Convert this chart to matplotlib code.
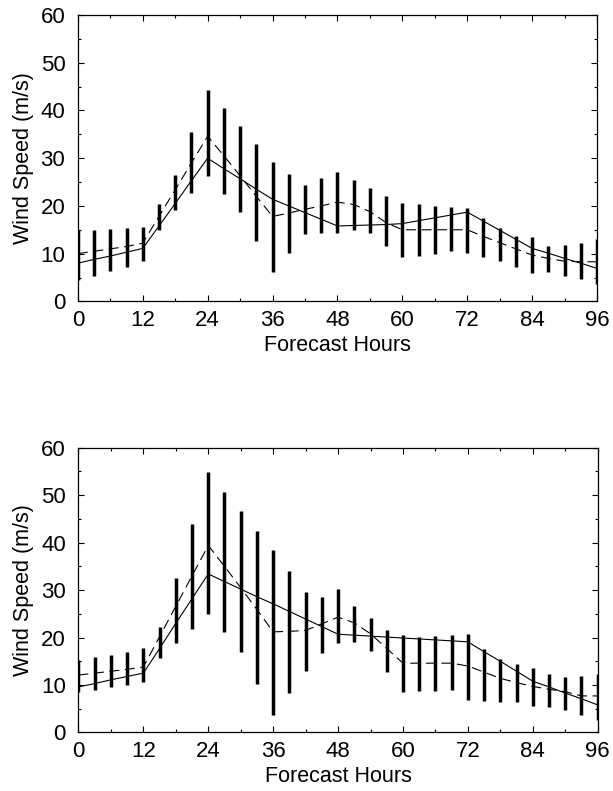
import numpy as np
import matplotlib
matplotlib.use("Agg")
import matplotlib.pyplot as plt
from matplotlib.ticker import MultipleLocator

plt.rcParams['font.family'] = ['Liberation Sans', 'DejaVu Sans']

hours = np.arange(0, 97, 3)

# upper panel
topHigh = [14.9, 14.9, 15.1, 15.4, 15.6, 20.4, 26.5, 35.4, 44.2, 40.5, 36.8, 33.0, 29.2,
           26.7, 24.4, 25.8, 27.2, 25.5, 23.7, 22.0, 20.6, 20.4, 19.9, 19.7, 19.5, 17.4,
           15.4, 13.7, 13.4, 11.7, 11.9, 12.2, 13.0]
topLow = [4.4, 5.4, 6.3, 7.3, 8.4, 15.0, 19.1, 22.7, 26.3, 22.5, 18.8, 12.6, 6.1,
          10.1, 14.2, 14.4, 14.4, 14.9, 14.3, 11.7, 9.3, 9.6, 10.0, 10.5, 10.1, 9.3,
          8.4, 7.2, 5.9, 6.1, 5.4, 4.7, 3.7]
topSolid = [8.0, 8.8, 9.5, 10.3, 11.1, 15.8, 20.5, 25.3, 30.0, 27.8, 25.7, 23.5, 21.4,
            20.0, 18.6, 17.2, 15.8, 15.9, 16.0, 16.1, 16.3, 16.9, 17.5, 18.1, 18.7, 16.8,
            14.9, 13.0, 11.1, 10.1, 9.0, 8.0, 6.9]
topDashed = [10.0, 10.5, 11.0, 11.5, 12.2, 17.8, 23.4, 29.0, 34.6, 30.5, 26.3, 22.0, 17.8,
             18.5, 19.3, 20.0, 20.8, 20.3, 18.8, 16.5, 15.0, 15.0, 15.0, 15.0, 15.0, 13.6,
             12.3, 11.0, 9.7, 9.0, 8.4, 8.3, 8.3]

# lower panel
botHigh = [15.3, 15.8, 16.3, 17.0, 17.7, 22.2, 32.5, 43.9, 54.8, 50.6, 46.6, 42.5, 38.5,
           34.0, 29.7, 28.6, 30.2, 26.7, 24.1, 21.6, 20.5, 20.2, 20.3, 20.5, 20.7, 17.5,
           15.4, 14.4, 13.5, 12.3, 11.6, 11.9, 12.3]
botLow = [8.6, 8.9, 9.5, 10.0, 10.6, 15.6, 18.8, 21.8, 24.9, 21.1, 16.9, 10.2, 3.7,
          8.4, 13.0, 16.8, 18.9, 19.1, 17.2, 12.8, 8.6, 8.7, 8.8, 8.9, 6.8, 6.7,
          6.5, 6.5, 5.6, 5.3, 4.7, 3.7, 2.7]
botSolid = [9.6, 10.3, 11.1, 11.8, 12.5, 17.7, 23.0, 28.2, 33.4, 31.8, 30.2, 28.6, 27.1,
            25.5, 23.9, 22.3, 20.7, 20.5, 20.3, 20.1, 19.9, 19.7, 19.5, 19.3, 19.1, 17.0,
            15.0, 12.9, 10.8, 9.6, 8.3, 7.1, 5.8]
botDashed = [12.1, 12.5, 12.9, 13.3, 13.8, 20.2, 26.6, 33.0, 39.4, 35.0, 30.5, 25.9, 21.2,
             21.3, 21.5, 22.9, 24.3, 23.1, 20.8, 17.7, 14.6, 14.6, 14.6, 14.6, 14.0, 12.7,
             11.4, 10.5, 9.7, 9.1, 8.6, 7.7, 7.7]

xTicks = [0, 12, 24, 36, 48, 60, 72, 84, 96]
yTicks = [0, 10, 20, 30, 40, 50, 60]


def drawPanel(ax, high, low, solid, dashed):
    ax.vlines(hours, low, high, colors='black', linewidth=2.5)
    ax.plot(hours, solid, color='black', linewidth=0.8)
    ax.plot(hours, dashed, color='black', linewidth=0.8, linestyle=(0, (9, 5)))
    ax.set_xlim(0, 96)
    ax.set_ylim(0, 60)
    ax.set_xticks(xTicks)
    ax.set_yticks(yTicks)
    ax.xaxis.set_minor_locator(MultipleLocator(6))
    ax.yaxis.set_minor_locator(MultipleLocator(5))
    ax.tick_params(which='both', direction='in', top=True, right=True, labelsize=16)
    ax.tick_params(which='major', length=4, width=0.8)
    ax.tick_params(which='minor', length=2.5, width=0.8)
    ax.tick_params(axis='y', pad=9)
    ax.tick_params(axis='x', pad=6)
    for s in ax.spines.values():
        s.set_linewidth(0.9)
    ax.set_xlabel("Forecast Hours", fontsize=15.5, labelpad=3)
    ax.set_ylabel("Wind Speed (m/s)", fontsize=15.5, labelpad=5)


fig = plt.figure(figsize=(6.13, 7.91), dpi=100)
ax1 = fig.add_axes([0.127, 0.619, 0.847, 0.362])
ax2 = fig.add_axes([0.128, 0.074, 0.847, 0.360])
drawPanel(ax1, topHigh, topLow, topSolid, topDashed)
drawPanel(ax2, botHigh, botLow, botSolid, botDashed)

fig.savefig("out.png", dpi=100)
